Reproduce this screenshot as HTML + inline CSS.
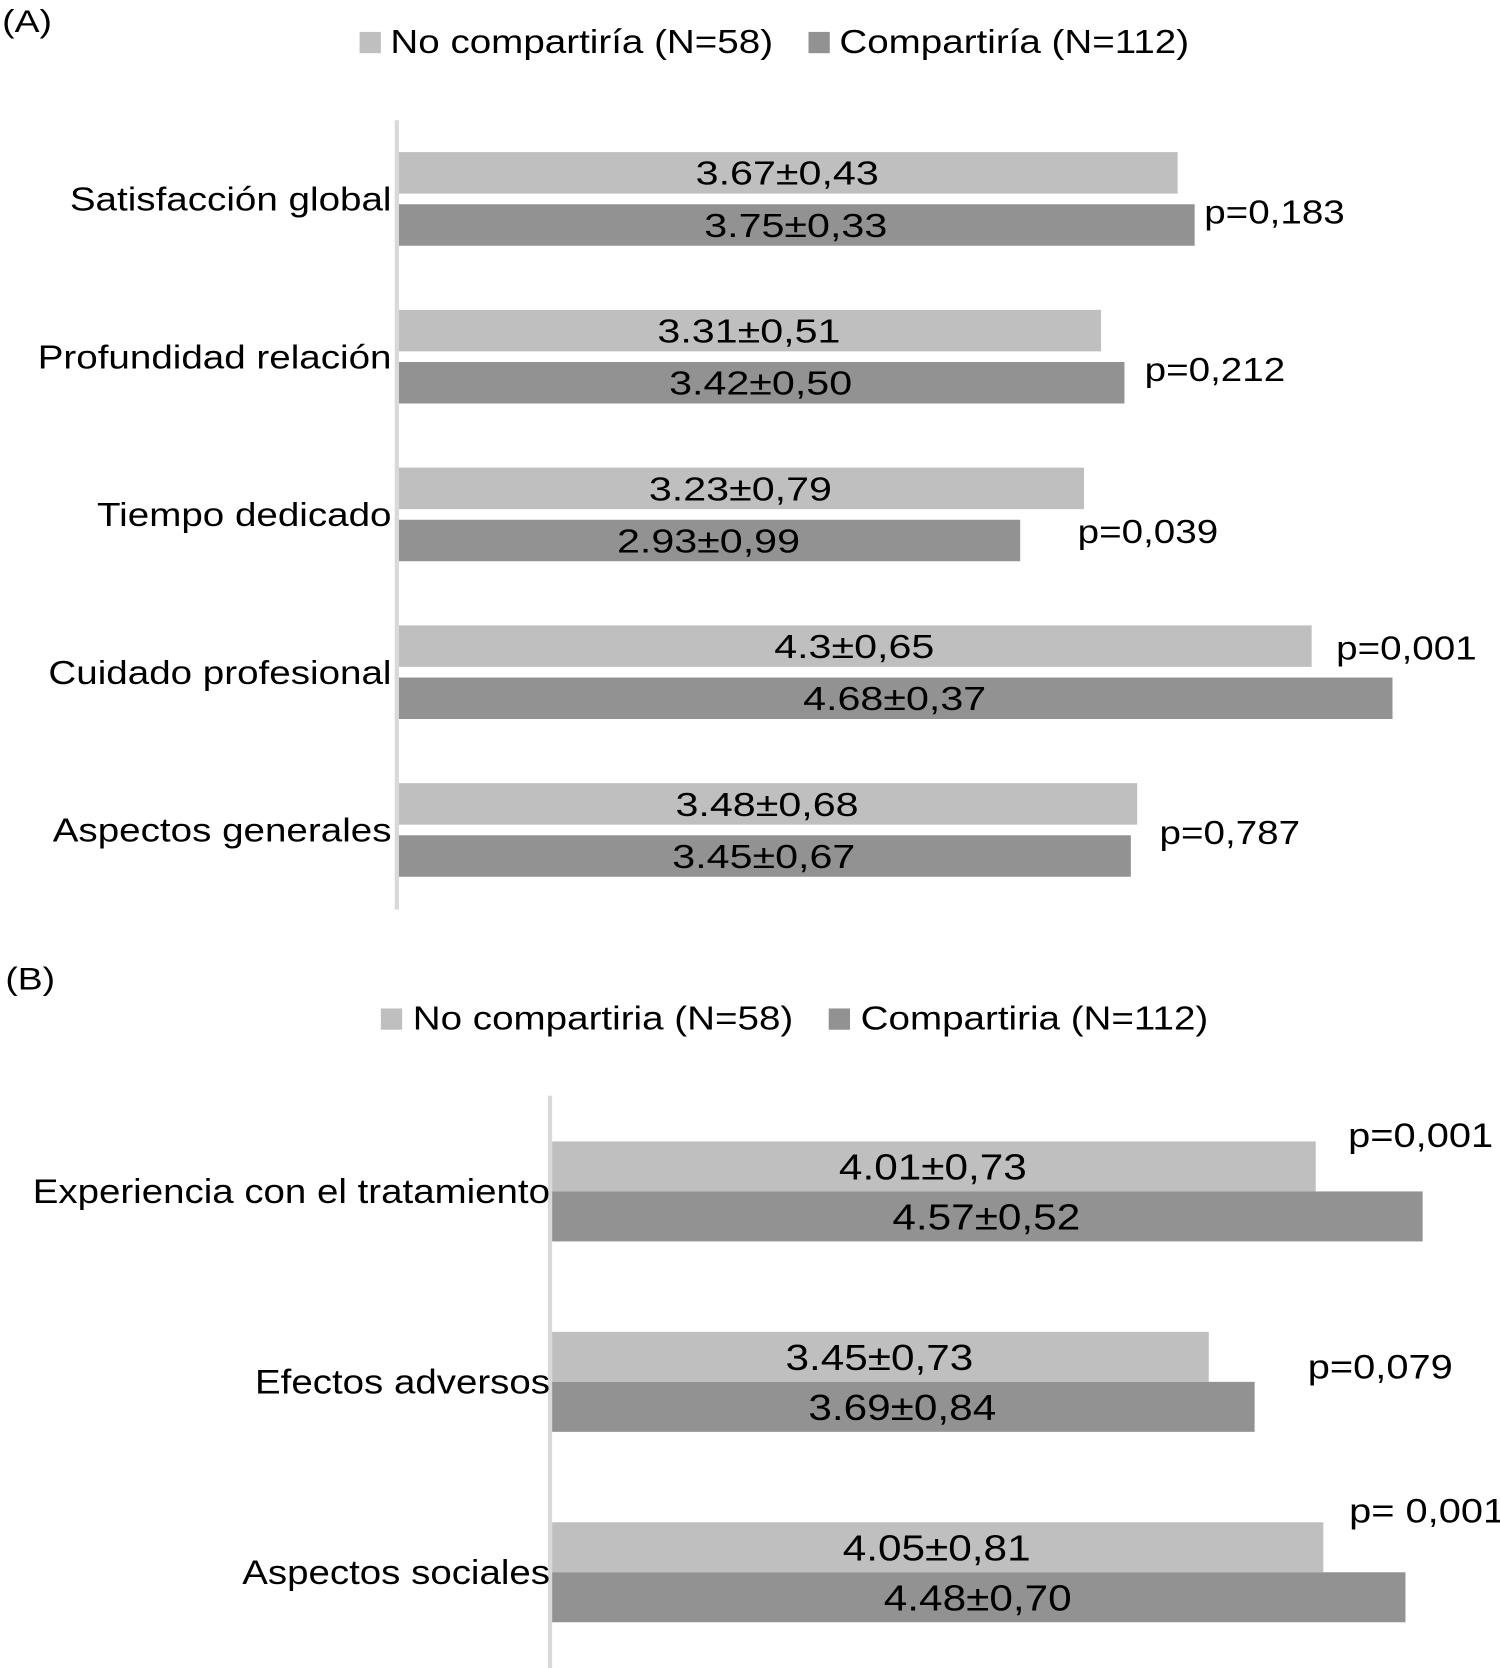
<!DOCTYPE html>
<html><head><meta charset="utf-8"><style>
html,body{margin:0;padding:0;background:#fff;}
svg{display:block;font-family:"Liberation Sans",Arial,sans-serif;}
</style></head><body>
<svg id="chart" width="1500" height="1668" viewBox="0 0 1410 1568" xmlns="http://www.w3.org/2000/svg">
<text x="2" y="30" font-size="30">(A)</text>
<rect x="338" y="30" width="20" height="20" fill="#bfbfbf"/>
<text x="367" y="50" font-size="31">No compartiría (N=58)</text>
<rect x="760" y="30" width="20" height="20" fill="#929292"/>
<text x="789" y="50" font-size="31">Compartiría (N=112)</text>
<line x1="373" y1="113" x2="373" y2="855" stroke="#d9d9d9" stroke-width="4"/>
<text x="5" y="930" font-size="30">(B)</text>
<rect x="358" y="948" width="20" height="20" fill="#bfbfbf"/>
<text x="388" y="968" font-size="31">No compartiria (N=58)</text>
<rect x="779" y="948" width="20" height="20" fill="#929292"/>
<text x="809" y="968" font-size="31">Compartiria (N=112)</text>
<line x1="517" y1="1030" x2="517" y2="1568" stroke="#d9d9d9" stroke-width="4"/>
<g id="ga"></g><g id="gb"></g>
</svg>
<script>
const catsA = ["Satisfacción global","Profundidad relación","Tiempo dedicado","Cuidado profesional","Aspectos generales"];
const noA = [3.67,3.31,3.23,4.3,3.48];
const yesA = [3.75,3.42,2.93,4.68,3.45];
const noSdA = ["0,43","0,51","0,79","0,65","0,68"];
const yesSdA = ["0,33","0,50","0,99","0,37","0,67"];
const pA = ["p=0,183","p=0,212","p=0,039","p=0,001","p=0,787"];
const catsB = ["Experiencia con el tratamiento","Efectos adversos","Aspectos sociales"];
const noB = [4.01,3.45,4.05];
const yesB = [4.57,3.69,4.48];
const noSdB = ["0,73","0,73","0,81"];
const yesSdB = ["0,52","0,84","0,70"];
const pB = ["p=0,001","p=0,079","p= 0,001"];
// layout (not data)
const pOffA=[[9,12],[19,12],[-6,16],[-53,-23],[21,2]];
const pOffB=[[-70,-53],[50,-14],[-53,-58]];
const NS="http://www.w3.org/2000/svg";
function mk(tag,attrs,parent,txt){const e=document.createElementNS(NS,tag);for(const k in attrs)e.setAttribute(k,attrs[k]);if(txt!==undefined)e.textContent=txt;parent.appendChild(e);return e;}
function draw(g,cats,no,yes,noSd,yesSd,ps,pOff,cfg){
  const x=v=>cfg.x0+cfg.k*v;
  cats.forEach((c,i)=>{
    const y=cfg.y0+cfg.step*i;
    const b1=mk('rect',{x:cfg.x0+2,y:y,width:x(no[i])-cfg.x0-2,height:cfg.h,fill:'#bfbfbf'},g);
    
    
    const b2=mk('rect',{x:cfg.x0+2,y:y+cfg.gap,width:x(yes[i])-cfg.x0-2,height:cfg.h,fill:'#929292'},g);
    
    
    const t1=mk('text',{x:(cfg.x0+x(no[i]))/2,y:y+cfg.h/2+cfg.fs*0.36,'font-size':cfg.fs,'text-anchor':'middle','data-sx':cfg.vs},g,no[i]+'±'+noSd[i]);
    
    
    const t2=mk('text',{x:(cfg.x0+x(yes[i]))/2,y:y+cfg.gap+cfg.h/2+cfg.fs*0.36,'font-size':cfg.fs,'text-anchor':'middle','data-sx':cfg.vs},g,yes[i]+'±'+yesSd[i]);
    
    
    const mid=y+(cfg.gap+cfg.h)/2;
    const cl=mk('text',{x:cfg.x0+cfg.lx,y:mid+11,'font-size':cfg.cfs,'text-anchor':'end','data-sx':cfg.cs},g,c);
    
    
    const pe=Math.max(x(no[i]),x(yes[i]));
    const pt=mk('text',{x:pe+pOff[i][0],y:mid+pOff[i][1]+11,'font-size':cfg.cfs},g,ps[i]);
    
    
  });
}
draw(document.getElementById('ga'),catsA,noA,yesA,noSdA,yesSdA,pA,pOffA,{x0:373,k:200,y0:143,step:148.3,h:39,gap:49,fs:31,cfs:31,vs:1.25,cs:1.17,lx:-5});
draw(document.getElementById('gb'),catsB,noB,yesB,noSdB,yesSdB,pB,pOffB,{x0:517,k:179.5,y0:1073,step:179,h:47,gap:47,fs:34,cfs:32,vs:1.17,cs:1.13,lx:0});
document.querySelectorAll('#chart text').forEach(t=>{
  const f=parseFloat(t.getAttribute('data-sx')||'1.17');
  const w=t.getComputedTextLength();
  t.setAttribute('textLength',(w*f).toFixed(1));
  t.setAttribute('lengthAdjust','spacingAndGlyphs');
});
</script>
</body></html>
